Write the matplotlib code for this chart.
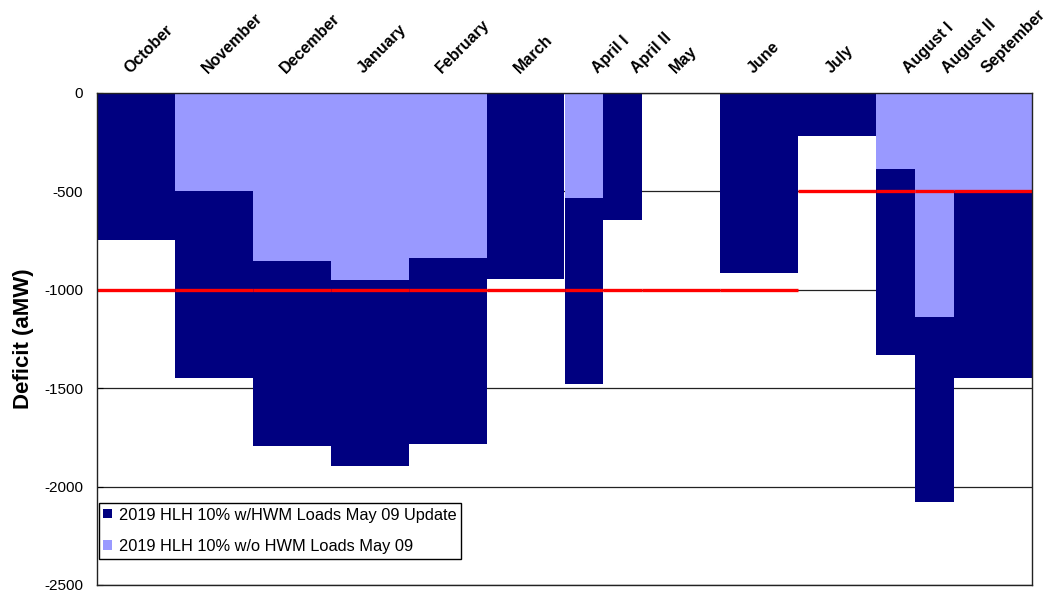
import numpy as np
import matplotlib.pyplot as plt
from matplotlib.patches import Patch

plt.rcParams['font.family'] = ['Liberation Sans', 'DejaVu Sans']
plt.rcParams['axes.unicode_minus'] = False

# periods of the year (half-month splits in April and August)
periods = ['October', 'November', 'December', 'January', 'February', 'March',
           'April I', 'April II', 'May', 'June', 'July', 'August I', 'August II',
           'September']
widths = [1, 1, 1, 1, 1, 1, 0.5, 0.5, 1, 1, 1, 0.5, 0.5, 1]

# deficit (aMW)
with_hwm = [-747, -1448, -1795, -1895, -1785, -945, -1480, -645, 0, -915,
            -218, -1331, -2080, -1448]
without_hwm = [0, -500, -854, -950, -838, 0, -533, 0, 0, 0,
               0, -386, -1138, -500]
# planning threshold per period
threshold = [-1000, -1000, -1000, -1000, -1000, -1000, -1000, -1000, -1000,
             -1000, -500, -500, -500, -500]

dark = '#000080'
light = '#9999FF'

lefts = np.concatenate([[0], np.cumsum(widths)[:-1]])

fig = plt.figure(figsize=(10.43, 5.94), dpi=100)
ax = fig.add_axes([97 / 1043, 1 - 585 / 594, 935 / 1043, 492 / 594])

ax.set_xlim(0, sum(widths))
ax.set_ylim(-2500, 0)
ax.set_yticks(np.arange(-2500, 1, 500))
ax.set_xticks([])
ax.yaxis.grid(True, color='#222222', linewidth=0.9)
ax.set_axisbelow(True)
ax.tick_params(axis='y', direction='in', length=4, labelsize=11, pad=10)

ax.bar(lefts, with_hwm, width=widths, align='edge', color=dark, zorder=2)
ax.bar(lefts, without_hwm, width=widths, align='edge', color=light, zorder=3)

ax.hlines(threshold, lefts, lefts + np.array(widths), color='#FF0000',
          linewidth=2.4, zorder=4)

for spine in ax.spines.values():
    spine.set_color('#222222')
    spine.set_linewidth(1.0)
    spine.set_zorder(5)

# period names along the top
for x, name in zip(lefts, periods):
    ax.text(x + 0.45, 1.034, name, transform=ax.get_xaxis_transform(),
            rotation=45, rotation_mode='anchor', ha='left', va='bottom',
            fontsize=11.5, fontweight='bold')

ax.set_ylabel('Deficit (aMW)', fontsize=16, fontweight='bold', labelpad=7)

handles = [Patch(facecolor=dark), Patch(facecolor=light)]
labels = ['2019 HLH 10% w/HWM Loads May 09 Update',
          '2019 HLH 10% w/o HWM Loads May 09']
leg = ax.legend(handles, labels, loc='upper left',
                bbox_to_anchor=(0.002, (585 - 503) / 492), borderaxespad=0,
                fontsize=11.8, fancybox=False, framealpha=1, edgecolor='black',
                handlelength=0.5, handleheight=0.5, handletextpad=0.45,
                labelspacing=1.0, borderpad=0.28)
leg.get_frame().set_linewidth(1.0)
leg.set_zorder(6)

fig.savefig('out.png', dpi=100, facecolor='white')
